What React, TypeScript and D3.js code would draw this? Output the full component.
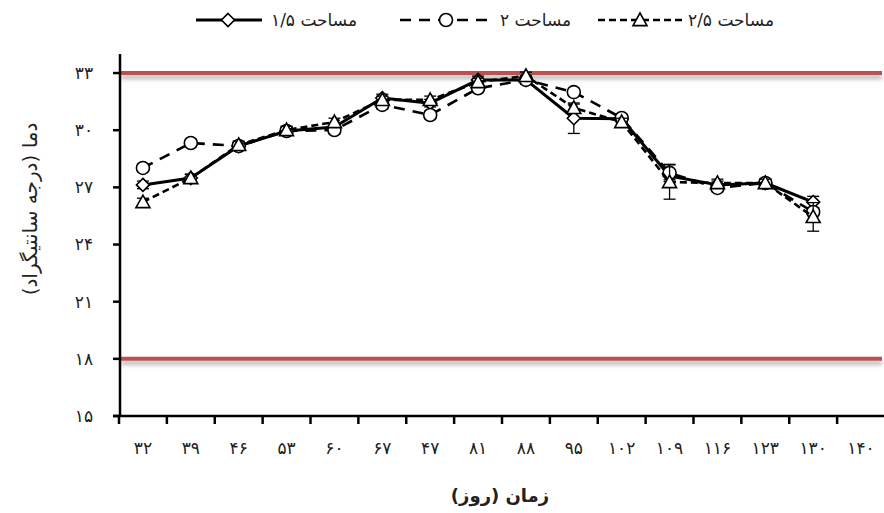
import React from 'react';
import * as d3 from 'd3';

const categories = ['۳۲', '۳۹', '۴۶', '۵۳', '۶۰', '۶۷', '۴۷', '۸۱', '۸۸', '۹۵', '۱۰۲', '۱۰۹', '۱۱۶', '۱۲۳', '۱۳۰', '۱۴۰'];
const yTicks = [15, 18, 21, 24, 27, 30, 33];
const yTickLabels = ['۱۵', '۱۸', '۲۱', '۲۴', '۲۷', '۳۰', '۳۳'];
const limitLines = [33, 18];

const seriesNames = ['مساحت ۱/۵', 'مساحت ۲', 'مساحت ۲/۵'];
const area15 = [27.13, 27.49, 29.17, 29.96, 30.17, 31.69, 31.42, 32.64, 32.64, 30.63, 30.6, 27.6, 27.13, 27.23, 26.23];
const area2 = [28.02, 29.33, 29.17, 29.96, 30.01, 31.33, 30.8, 32.2, 32.64, 32.0, 30.64, 27.76, 26.97, 27.23, 25.71];
const area25 = [26.23, 27.49, 29.23, 30.01, 30.43, 31.59, 31.59, 32.53, 32.85, 31.17, 30.43, 27.28, 27.23, 27.23, 25.45];
const err15 = [0.2, 0.2, 0.2, 0.2, 0.2, 0.2, 0.2, 0.2, 0.2, 0.8, 0.2, 0.2, 0.2, 0.2, 0.3];
const err2 = [0.2, 0.2, 0.2, 0.2, 0.2, 0.2, 0.2, 0.2, 0.2, 0.2, 0.2, 0.45, 0.2, 0.2, 0.2];
const err25 = [0.2, 0.2, 0.2, 0.2, 0.2, 0.2, 0.2, 0.2, 0.2, 0.2, 0.2, 0.9, 0.2, 0.2, 0.75];

const yTitle = 'دما (درجه سانتیگراد)';
const xTitle = 'زمان (روز)';

const W = 884;
const H = 513;
const FONT = "'DejaVu Sans', sans-serif";

const x = d3.scaleBand<string>().domain(categories).range([119, 885]).padding(0);
const y = d3.scaleLinear().domain([15, 34]).range([416, 54]);

type Marker = 'diamond' | 'circle' | 'triangle';

const series = [
  { name: seriesNames[0], values: area15, errs: err15, marker: 'diamond' as Marker, dash: '', width: 3 },
  { name: seriesNames[1], values: area2, errs: err2, marker: 'circle' as Marker, dash: '11,8', width: 2.6 },
  { name: seriesNames[2], values: area25, errs: err25, marker: 'triangle' as Marker, dash: '7,4', width: 2.6 },
];

function MarkerShape({ type, cx, cy }: { type: Marker; cx: number; cy: number }) {
  const common = { fill: '#fff', stroke: '#000', strokeWidth: 1.6 };
  if (type === 'circle') return <circle cx={cx} cy={cy} r={6.5} {...common} />;
  if (type === 'diamond') {
    const s = 6.5;
    return <path d={`M${cx},${cy - s}L${cx + s},${cy}L${cx},${cy + s}L${cx - s},${cy}Z`} {...common} />;
  }
  const s = 7;
  return <path d={`M${cx},${cy - s}L${cx + s},${cy + s * 0.8}L${cx - s},${cy + s * 0.8}Z`} {...common} />;
}

export default function App() {
  const cx = (i: number) => (x(categories[i]) as number) + x.bandwidth() / 2;
  const line = d3
    .line<number>()
    .x((_, i) => cx(i))
    .y((d) => y(d));

  const legendItems = [
    { marker: 'diamond' as Marker, dash: '', width: 3, x1: 196, x2: 262, mx: 228, tx: 271 },
    { marker: 'circle' as Marker, dash: '11,8', width: 2.6, x1: 400, x2: 488, mx: 446, tx: 500 },
    { marker: 'triangle' as Marker, dash: '7,4', width: 2.6, x1: 598, x2: 684, mx: 640, tx: 688 },
  ];

  return (
    <svg width={W} height={H} style={{ position: 'absolute', left: 0, top: 0, background: '#fff' }} fontFamily={FONT}>
      <defs>
        <filter id="blur" filterUnits="userSpaceOnUse" x="0" y="0" width={W} height={H}>
          <feGaussianBlur stdDeviation="2" />
        </filter>
      </defs>

      {/* limit lines with soft shadow */}
      {limitLines.map((v) => (
        <g key={v}>
          <line x1={121} x2={882} y1={y(v) + 4} y2={y(v) + 4} stroke="#000" strokeOpacity={0.3} strokeWidth={4} filter="url(#blur)" />
          <line x1={121} x2={882} y1={y(v)} y2={y(v)} stroke="#c0504d" strokeWidth={4} />
        </g>
      ))}

      {/* y axis */}
      <line x1={120} x2={120} y1={y(34)} y2={y(15)} stroke="#000" strokeWidth={2.5} />
      {yTicks.map((t, i) => (
        <g key={t}>
          <line x1={113} x2={120} y1={y(t)} y2={y(t)} stroke="#000" strokeWidth={2.5} />
          <text x={84} y={y(t)} dy="0.35em" textAnchor="middle" fontSize={17} fill="#222">
            {yTickLabels[i]}
          </text>
        </g>
      ))}

      {/* x axis */}
      <line x1={113} x2={884} y1={y(15)} y2={y(15)} stroke="#000" strokeWidth={2.5} />
      {categories.map((c, i) => (
        <g key={c}>
          <line x1={x(c)} x2={x(c)} y1={y(15)} y2={y(15) + 8} stroke="#000" strokeWidth={2.5} />
          <text x={cx(i)} y={448} dy="0.35em" textAnchor="middle" fontSize={17} fill="#222">
            {c}
          </text>
        </g>
      ))}

      {/* titles */}
      <text
        transform={`translate(30,${(y(15) + y(34)) / 2 - 26}) rotate(-90)`}
        textAnchor="middle"
        dy="0.35em"
        fontSize={20}
        fill="#222"
      >
        {yTitle}
      </text>
      <text x={500} y={496} textAnchor="middle" dy="0.35em" fontSize={18} fontWeight="bold" fill="#222">
        {xTitle}
      </text>

      {/* series */}
      {series.map((s) => (
        <g key={s.name}>
          {s.values.map((v, i) => {
            const e = s.errs[i];
            return (
              <g key={i} stroke="#000" strokeWidth={1.3}>
                <line x1={cx(i)} x2={cx(i)} y1={y(v + e)} y2={y(v - e)} />
                <line x1={cx(i) - 6} x2={cx(i) + 6} y1={y(v + e)} y2={y(v + e)} />
                <line x1={cx(i) - 6} x2={cx(i) + 6} y1={y(v - e)} y2={y(v - e)} />
              </g>
            );
          })}
          <path d={line(s.values) || ''} fill="none" stroke="#000" strokeWidth={s.width} strokeDasharray={s.dash || undefined} strokeLinejoin="round" />
          {s.values.map((v, i) => (
            <MarkerShape key={i} type={s.marker} cx={cx(i)} cy={y(v)} />
          ))}
        </g>
      ))}

      {/* legend */}
      {legendItems.map((l, i) => (
        <g key={i}>
          <line x1={l.x1} x2={l.x2} y1={20} y2={20} stroke="#000" strokeWidth={l.width} strokeDasharray={l.dash || undefined} />
          <MarkerShape type={l.marker} cx={l.mx} cy={20} />
          <text x={l.tx} y={20} dy="0.35em" fontSize={17} fill="#222" textAnchor="start">
            {seriesNames[i]}
          </text>
        </g>
      ))}
    </svg>
  );
}
